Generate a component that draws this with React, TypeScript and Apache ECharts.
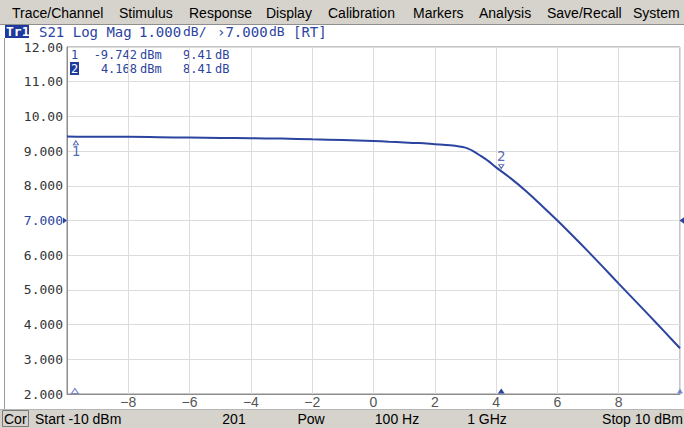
import React, { useEffect, useRef } from 'react';
import * as echarts from 'echarts';

// Swept input power (dBm) and measured S21 gain (dB)
const powerDbm = [-10, -9, -8, -7, -6, -5, -4, -3, -2, -1, 0, 0.5, 1, 1.5, 2, 2.5, 3, 3.25, 3.5, 3.75, 4, 4.5, 5, 5.5, 6, 6.5, 7, 7.5, 8, 8.5, 9, 9.5, 10];
const gainDb = [9.42, 9.41, 9.41, 9.40, 9.39, 9.38, 9.37, 9.36, 9.34, 9.32, 9.29, 9.27, 9.25, 9.23, 9.20, 9.17, 9.10, 9.00, 8.86, 8.71, 8.53, 8.20, 7.83, 7.42, 7.00, 6.56, 6.11, 5.65, 5.18, 4.72, 4.26, 3.79, 3.32];

const markerNames = ['1', '2'];
const markerPower = [-9.742, 4.168];
const markerGain = [9.41, 8.41];
const markerPowerText = ['-9.742', '4.168'];
const markerGainText = ['9.41', '8.41'];

const menuItems = ['Trace/Channel', 'Stimulus', 'Response', 'Display', 'Calibration', 'Markers', 'Analysis', 'Save/Recall', 'System'];
const statusItems = ['Start -10 dBm', '201', 'Pow', '100 Hz', '1 GHz', 'Stop 10 dBm'];

const xMin = -10, xMax = 10, xStep = 2;
const yMin = 2, yMax = 12, yStep = 1;
const refLevel = 7;

const BLUE = '#2c44a0';
const MONO = '"DejaVu Sans Mono", "Liberation Mono", monospace';
const SANS = '"Liberation Sans", "DejaVu Sans", sans-serif';

export default function App() {
  const ref = useRef<HTMLDivElement>(null);
  useEffect(() => {
    document.body.style.margin = '0';
    const chart = echarts.init(ref.current!, null, { renderer: 'svg' });

    const menuX = [12, 119, 189, 266, 328, 413, 479, 547, 633];
    const statusX = [35, 234, 311, 397, 487, 683];
    const statusAlign = ['left', 'center', 'center', 'center', 'center', 'right'];

    const graphic: any[] = [
      { type: 'rect', shape: { x: 0, y: 0, width: 684, height: 24 }, style: { fill: '#d6d3cc' }, silent: true },
      { type: 'line', shape: { x1: 0, y1: 24.5, x2: 684, y2: 24.5 }, style: { stroke: '#8e8e8e', lineWidth: 1 } },
      ...menuItems.map((t, i) => ({
        type: 'text',
        style: { text: t, x: menuX[i], y: 13, font: '14px ' + SANS, fill: '#000', textVerticalAlign: 'middle' },
      })),
      // trace title line
      { type: 'rect', shape: { x: 5, y: 25, width: 24, height: 13 }, style: { fill: '#1d3a9c' } },
      { type: 'text', style: { text: 'Tr1', x: 6, y: 31.5, font: 'bold 13px ' + MONO, fill: '#ffffff', textVerticalAlign: 'middle' } },
      { type: 'text', style: { text: 'S21 Log Mag', x: 39, y: 31.5, font: '14px ' + MONO, fill: BLUE, textVerticalAlign: 'middle' } },
      { type: 'text', style: { text: '1.000', x: 139, y: 31.5, font: '14px ' + MONO, fill: BLUE, textVerticalAlign: 'middle' } },
      { type: 'text', style: { text: 'dB/', x: 183, y: 31.5, font: '13px ' + MONO, fill: BLUE, textVerticalAlign: 'middle' } },
      { type: 'text', style: { text: '\u203A7.000', x: 217, y: 31.5, font: '14px ' + MONO, fill: BLUE, textVerticalAlign: 'middle' } },
      { type: 'text', style: { text: 'dB', x: 269, y: 31.5, font: '13px ' + MONO, fill: BLUE, textVerticalAlign: 'middle' } },
      { type: 'text', style: { text: '[RT]', x: 293, y: 31.5, font: '14px ' + MONO, fill: BLUE, textVerticalAlign: 'middle' } },
      // left frame of window
      { type: 'line', shape: { x1: 4.5, y1: 38, x2: 4.5, y2: 409 }, style: { stroke: '#9a9a9a', lineWidth: 1 } },
      // status bar
      { type: 'rect', shape: { x: 0, y: 409, width: 684, height: 19 }, style: { fill: '#d6d3cc' } },
      { type: 'line', shape: { x1: 0, y1: 409.5, x2: 684, y2: 409.5 }, style: { stroke: '#b5b5b5', lineWidth: 1 } },
      { type: 'rect', shape: { x: 2.5, y: 410.5, width: 26, height: 16 }, style: { fill: 'none', stroke: '#7a7a7a', lineWidth: 1 } },
      { type: 'text', style: { text: 'Cor', x: 4, y: 419, font: '14px ' + SANS, fill: '#000', textVerticalAlign: 'middle' } },
      ...statusItems.map((t, i) => ({
        type: 'text',
        style: { text: t, x: statusX[i], y: 419, font: '14px ' + SANS, fill: '#000', textAlign: statusAlign[i], textVerticalAlign: 'middle' },
      })),
    ];

    // marker readout
    markerNames.forEach((n, i) => {
      const y = 54.5 + i * 14;
      if (i === 1) {
        graphic.push({ type: 'rect', shape: { x: 70, y: y - 6.5, width: 9, height: 13 }, style: { fill: '#1d3a9c' } });
      }
      const base = { y, textVerticalAlign: 'middle' };
      graphic.push(
        { type: 'text', style: { ...base, text: n, x: 71, font: '12px ' + MONO, fill: i === 1 ? '#fff' : BLUE } },
        { type: 'text', style: { ...base, text: markerPowerText[i], x: 137, font: '12px ' + MONO, fill: BLUE, textAlign: 'right' } },
        { type: 'text', style: { ...base, text: 'dBm', x: 140, font: '12px ' + MONO, fill: BLUE } },
        { type: 'text', style: { ...base, text: markerGainText[i], x: 212, font: '12px ' + MONO, fill: BLUE, textAlign: 'right' } },
        { type: 'text', style: { ...base, text: 'dB', x: 215, font: '12px ' + MONO, fill: BLUE } },
      );
    });

    chart.setOption({
      animation: false,
      backgroundColor: '#ffffff',
      grid: { left: 67, right: 4, top: 47, bottom: 34, show: true, borderColor: '#8c8c8c', borderWidth: 1, backgroundColor: 'transparent' },
      xAxis: {
        type: 'value', min: xMin, max: xMax, interval: xStep,
        axisLine: { show: true, onZero: false, lineStyle: { color: '#8c8c8c' } },
        axisTick: { show: false },
        splitLine: { show: true, lineStyle: { color: '#dcdcdc', width: 1 } },
        axisLabel: {
          showMinLabel: false, showMaxLabel: false, margin: 1,
          color: '#555', fontFamily: SANS, fontSize: 14,
          formatter: (v: number) => (v < 0 ? '\u2212' + Math.abs(v) : String(v)),
        },
      },
      yAxis: {
        type: 'value', min: yMin, max: yMax, interval: yStep,
        axisLine: { show: true, onZero: false, lineStyle: { color: '#8c8c8c' } },
        axisTick: { show: false },
        splitLine: { show: true, lineStyle: { color: '#dcdcdc', width: 1 } },
        axisLabel: {
          margin: 4,
          color: '#333', fontFamily: MONO, fontSize: 13,
          formatter: (v: number) => {
            const s = v >= 10 ? v.toFixed(2) : v.toFixed(3);
            return v === refLevel ? '{r|' + s + '}' : s;
          },
          rich: { r: { color: BLUE, fontFamily: MONO, fontSize: 13 } },
        },
      },
      series: [
        {
          type: 'line',
          data: powerDbm.map((p, i) => [p, gainDb[i]]),
          showSymbol: false,
          symbol: 'none',
          smooth: 0.3,
          lineStyle: { color: BLUE, width: 2 },
          silent: true,
          markPoint: {
            silent: true,
            label: { show: false },
            data: [
              { coord: [xMin, refLevel], symbol: 'triangle', symbolRotate: -90, symbolSize: [6, 4], symbolOffset: [-2, 0], itemStyle: { color: BLUE } },
              { coord: [xMax, refLevel], symbol: 'triangle', symbolRotate: 90, symbolSize: [7, 5], symbolOffset: [2, 0], itemStyle: { color: BLUE } },
              { coord: [markerPower[0], yMin], symbol: 'triangle', symbolSize: [7, 5], symbolOffset: [0, -3], itemStyle: { color: '#ffffff', borderColor: '#7a86c8', borderWidth: 1 } },
              { coord: [markerPower[1], yMin], symbol: 'triangle', symbolSize: [7, 5], symbolOffset: [0, -3], itemStyle: { color: BLUE } },
              { coord: [xMax, yMin], symbol: 'triangle', symbolSize: [6, 5], symbolOffset: [0, -3], itemStyle: { color: '#7a86c8' } },
            ],
          },
        },
        {
          type: 'scatter',
          silent: true,
          data: [
            {
              value: [markerPower[0], markerGain[0]],
              symbol: 'triangle', symbolSize: [5, 4], symbolOffset: [1, 6],
              itemStyle: { color: '#ffffff', borderColor: BLUE, borderWidth: 1 },
              label: { show: true, formatter: markerNames[0], position: 'inside', offset: [0, 8], color: BLUE, fontFamily: MONO, fontSize: 14 },
            },
            {
              value: [markerPower[1], markerGain[1]],
              symbol: 'triangle', symbolRotate: 180, symbolSize: [5, 4], symbolOffset: [0, -5],
              itemStyle: { color: '#ffffff', borderColor: BLUE, borderWidth: 1 },
              label: { show: true, formatter: markerNames[1], position: 'inside', offset: [0, -11], color: BLUE, fontFamily: MONO, fontSize: 14 },
            },
          ],
        },
      ],
      graphic,
    });
    return () => chart.dispose();
  }, []);
  return <div ref={ref} style={{ width: 684, height: 428 }} />;
}
